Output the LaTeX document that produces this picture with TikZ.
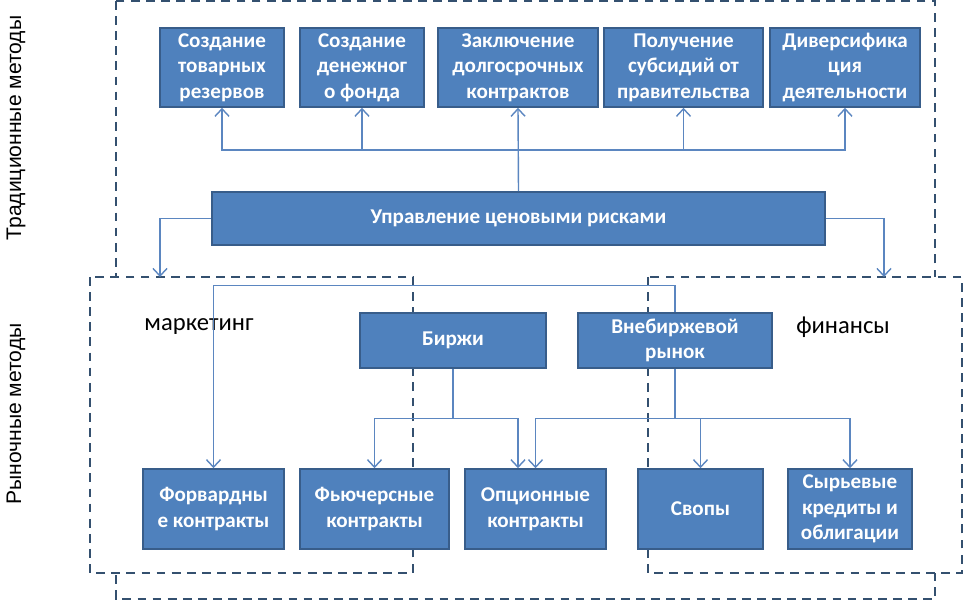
\documentclass[tikz,border=0pt]{standalone}
\usepackage{fontspec}
\setmainfont{Carlito}
\newfontfamily\sidefont{Liberation Sans}
\usepackage{xcolor}
\usepackage{tikz}
\usetikzlibrary{arrows.meta}
\definecolor{boxblue}{HTML}{4F81BD}
\definecolor{boxline}{HTML}{385D8A}
\definecolor{linkblue}{HTML}{5B86C0}
\definecolor{zoneline}{HTML}{34506F}

\begin{document}
\begin{tikzpicture}[
          x=0.02cm,y=-0.02cm,
          every node/.style={font=\fontsize{14}{16}\selectfont},
          side/.style={rotate=90,font=\sidefont\fontsize{12}{14}\selectfont},
          box/.style={draw=boxline,fill=boxblue,line width=0.9pt,text=white,
                      font=\fontsize{12}{14.6}\selectfont\bfseries,
                      align=center,inner sep=0pt},
          toprow/.style={box,minimum height=1.58cm},
          botrow/.style={box,minimum height=1.6cm},
          zone/.style={draw=zoneline,line width=1.3pt,dash pattern=on 5pt off 3.6pt},
          link/.style={draw=linkblue,line width=0.8pt},
          arr/.style={link,-{Straight Barb[length=1.5mm,width=2.8mm]}},
      ]
        \useasboundingbox (0,0) rectangle (964,601);

        % dashed areas
        \draw[zone] (116,1) rectangle (935,599);
        \draw[zone,fill=white] (90,277) rectangle (413,573);
        \draw[zone,fill=white] (648,277) rectangle (962,573);

        \node[side] (trad) at (16,128) {Традиционные методы};
        \node[side] (market) at (16,414) {Рыночные методы};
        \node (mkt) at (199,327) {маркетинг};
        \node (fin) at (843,327) {финансы};

        % traditional methods
        \node[toprow,minimum width=2.48cm] (t1) at (222,67.5) {Создание\\товарных\\резервов};
        \node[toprow,minimum width=2.48cm] (t2) at (362,67.5) {Создание\\денежног\\о фонда};
        \node[toprow,minimum width=3.2cm] (t3) at (518,67.5) {Заключение\\долгосрочных\\контрактов};
        \node[toprow,minimum width=3.18cm] (t4) at (683.5,67.5) {Получение\\субсидий от\\правительства};
        \node[toprow,minimum width=3.0cm] (t5) at (845,67.5) {Диверсифика\\ция\\деятельности};

        \node[box,minimum width=12.26cm,minimum height=1.06cm] (main) at (518.5,218.5)
          {Управление ценовыми рисками};

        % market methods
        \node[box,minimum width=3.72cm,minimum height=1.1cm] (birzhi) at (453,340.5) {Биржи};
        \node[box,minimum width=3.88cm,minimum height=1.1cm] (vneb) at (675,340.5) {Внебиржевой\\рынок};

        \node[botrow,minimum width=2.82cm] (b1) at (213.5,509) {Форвардны\\е контракты};
        \node[botrow,minimum width=2.98cm] (b2) at (374.5,509) {Фьючерсные\\контракты};
        \node[botrow,minimum width=2.82cm] (b3) at (535.5,509) {Опционные\\контракты};
        \node[botrow,minimum width=2.5cm] (b4) at (700.5,509) {Свопы};
        \node[botrow,minimum width=2.48cm] (b5) at (850,509) {Сырьевые\\кредиты и\\облигации};

        % connectors
        \coordinate (bus) at (518,150);
        \coordinate (mktin) at (160,277);
        \coordinate (finin) at (884,277);

        \draw[arr] (main.north) -- (t3.south);
        \draw[arr] (bus) -| (t1.south);
        \draw[arr] (bus) -| (t2.south);
        \draw[arr] (bus) -| (t4.south);
        \draw[arr] (bus) -| (t5.south);

        \draw[arr] (main.west) -| (mktin);
        \draw[arr] (main.east) -| (finin);

        \draw[arr] (vneb.north) -- ++(0,-27) -| (b1.north);
        \draw[arr] (birzhi.south) -- ++(0,50) -| (b2.north);
        \draw[arr] (birzhi.south) -- ++(0,50) -| ([xshift=-0.35cm]b3.north);
        \draw[arr] (vneb.south) -- ++(0,50) -| (b3.north);
        \draw[arr] (vneb.south) -- ++(0,50) -| (b4.north);
        \draw[arr] (vneb.south) -- ++(0,50) -| (b5.north);
      \end{tikzpicture}
\end{document}
